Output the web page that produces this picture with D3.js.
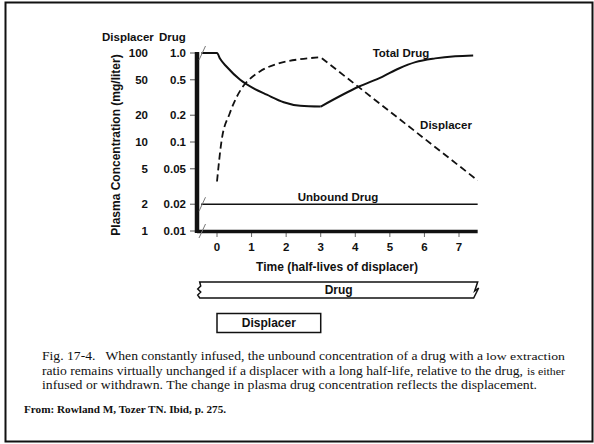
<!DOCTYPE html>
<html>
<head>
<meta charset="utf-8">
<script src="https://cdn.jsdelivr.net/npm/d3@7"></script>
<style>
body { margin: 0; background: #fff; }
svg { display: block; }
.lbl { font-family: "Liberation Sans", Arial, sans-serif; font-weight: bold; font-size: 11.5px; fill: #111; }
.cap { font-family: "Liberation Serif", "Times New Roman", serif; font-size: 13.5px; fill: #111; white-space: pre; }
</style>
</head>
<body>
<svg width="594" height="444"></svg>
<script>
// time axis, in half-lives of the displacer
var timeTicks = [0, 1, 2, 3, 4, 5, 6, 7];

// two concentration scales share one log axis
var drugTicks = [1.0, 0.5, 0.2, 0.1, 0.05, 0.02, 0.01];
var drugTickLabels = ["1.0", "0.5", "0.2", "0.1", "0.05", "0.02", "0.01"];
var displacerTicks = [100, 50, 20, 10, 5, 2, 1];

// total drug (mg/L) while displacer is infused, then after it is withdrawn
var totalInfTime = [-0.45, 0, 0.09, 0.28, 0.67, 1.06, 1.44, 1.93, 2.41, 3.0];
var totalInfConc = [1.0, 1.0, 0.86, 0.70, 0.50, 0.40, 0.34, 0.28, 0.255, 0.25];
var totalWdTime = [3.0, 4.11, 4.78, 5.26, 5.74, 6.31, 6.89, 7.41];
var totalWdConc = [0.25, 0.42, 0.54, 0.67, 0.79, 0.87, 0.92, 0.94];

// displacer (mg/L)
var dispInfTime = [0, 0.135, 0.37, 0.75, 0.95, 1.24, 1.81, 2.39, 3.0];
var dispInfConc = [3.6, 10.5, 21, 42, 51, 62, 77, 85, 89.5];
var dispWdTime = [3.0, 7.54];
var dispWdConc = [89.5, 3.7];

// unbound drug stays flat
var unboundTime = [-0.46, 7.54];
var unboundConc = [0.02, 0.02];

// infusion periods
var drugInfusion = [-0.5, 7.54];
var displacerInfusion = [0, 3];

// caption: [main text, smaller tail]
var captionLines = [
    ["Fig. 17-4.   When constantly infused, the unbound concentration of a drug with a", "low extraction"],
    ["ratio remains virtually unchanged if a displacer with a long half-life, relative to the drug,", "is either"],
    ["infused or withdrawn. The change in plasma drug concentration reflects the displacement.", ""]
];
var source = "From: Rowland M, Tozer TN. Ibid, p. 275.";

var svg = d3.select("svg");

var x = d3.scaleLinear().domain([0, 7]).range([217, 459]);
var y = d3.scaleLog().domain([0.01, 1]).range([231, 53]);
var yDisp = d3.scaleLog().domain([1, 100]).range([231, 53]);

var axisX = 197;
var axisEnd = x(7.54);

// frame
svg.append("rect")
    .attr("x", 5.5).attr("y", 2.5)
    .attr("width", 587).attr("height", 439)
    .attr("fill", "none").attr("stroke", "#111").attr("stroke-width", 2);

// y ticks + two label columns
var yt = svg.append("g");
yt.selectAll("line")
    .data(drugTicks)
    .join("line")
    .attr("x1", 190).attr("x2", axisX)
    .attr("y1", d => y(d)).attr("y2", d => y(d))
    .attr("stroke", "#555").attr("stroke-width", 1);
yt.selectAll("text.drug")
    .data(drugTicks)
    .join("text")
    .attr("class", "lbl drug")
    .attr("x", 186).attr("y", d => y(d) + 4)
    .attr("text-anchor", "end")
    .text((d, i) => drugTickLabels[i]);
yt.selectAll("text.disp")
    .data(displacerTicks)
    .join("text")
    .attr("class", "lbl disp")
    .attr("x", 148).attr("y", d => yDisp(d) + 4)
    .attr("text-anchor", "end")
    .text(d => d);

svg.append("text").attr("class", "lbl").attr("x", 102).attr("y", 41).text("Displacer");
svg.append("text").attr("class", "lbl").attr("x", 159).attr("y", 41).text("Drug");

svg.append("text")
    .attr("class", "lbl")
    .attr("transform", "translate(120,145) rotate(-90)")
    .attr("text-anchor", "middle")
    .style("font-size", "12px")
    .text("Plasma Concentration (mg/liter)");

// x ticks
var xt = svg.append("g");
xt.selectAll("line")
    .data(timeTicks)
    .join("line")
    .attr("x1", d => x(d)).attr("x2", d => x(d))
    .attr("y1", 232).attr("y2", 237)
    .attr("stroke", "#666").attr("stroke-width", 1);
xt.selectAll("text")
    .data(timeTicks)
    .join("text")
    .attr("class", "lbl")
    .attr("x", d => x(d)).attr("y", 251)
    .attr("text-anchor", "middle")
    .text(d => d);

svg.append("text")
    .attr("class", "lbl")
    .attr("x", 337).attr("y", 271)
    .attr("text-anchor", "middle")
    .style("font-size", "12px")
    .text("Time (half-lives of displacer)");

// curves
var zip = (ts, vs) => ts.map((t, i) => [t, vs[i]]);

var drugLine = d3.line().x(d => x(d[0])).y(d => y(d[1])).curve(d3.curveMonotoneX);
var dispLine = d3.line().x(d => x(d[0])).y(d => yDisp(d[1])).curve(d3.curveMonotoneX);

svg.append("path")
    .attr("d", drugLine(zip(unboundTime, unboundConc)))
    .attr("fill", "none").attr("stroke", "#111").attr("stroke-width", 1.5);

[zip(totalInfTime, totalInfConc), zip(totalWdTime, totalWdConc)].forEach(pts => {
    svg.append("path")
        .attr("d", drugLine(pts))
        .attr("fill", "none").attr("stroke", "#111").attr("stroke-width", 2);
});

svg.append("path")
    .attr("d", dispLine(zip(dispInfTime, dispInfConc)) + dispLine(zip(dispWdTime, dispWdConc)).replace(/^M/, "L"))
    .attr("fill", "none").attr("stroke", "#111").attr("stroke-width", 1.8)
    .attr("stroke-dasharray", "7,4");

// axes drawn thick on top
svg.append("line")
    .attr("x1", axisX).attr("x2", axisX).attr("y1", 52).attr("y2", 233)
    .attr("stroke", "#111").attr("stroke-width", 4.5);
svg.append("line")
    .attr("x1", axisX).attr("x2", axisEnd).attr("y1", 231.5).attr("y2", 231.5)
    .attr("stroke", "#111").attr("stroke-width", 3.5);

// axis break marks
svg.selectAll("line.brk")
    .data([1.0, 0.02, 0.01])
    .join("line")
    .attr("class", "brk")
    .attr("x1", 199).attr("x2", 205.5)
    .attr("y1", d => y(d) + 7).attr("y2", d => y(d) - 7)
    .attr("stroke", "#777").attr("stroke-width", 1);

// labels
svg.append("text").attr("class", "lbl").attr("x", 401).attr("y", 57).attr("text-anchor", "middle").text("Total Drug");
svg.append("text").attr("class", "lbl").attr("x", 446).attr("y", 129).attr("text-anchor", "middle").text("Displacer");
svg.append("text").attr("class", "lbl").attr("x", 338).attr("y", 201).attr("text-anchor", "middle").text("Unbound Drug");

// infusion bars
var bx0 = x(drugInfusion[0]), bx1 = x(drugInfusion[1]);
var bTop = 282, bBot = 298;
var barPath = d3.path();
barPath.moveTo(bx0, bTop);
barPath.lineTo(bx1, bTop);
barPath.lineTo(bx1 - 3, bTop + 9);
barPath.lineTo(bx1 + 1, bTop + 6);
barPath.lineTo(bx1 - 4, bBot);
barPath.lineTo(bx0, bBot);
barPath.lineTo(bx0 - 2, bBot - 3);
barPath.lineTo(bx0 + 1, bBot - 6);
barPath.lineTo(bx0 - 2, bBot - 9);
barPath.lineTo(bx0 + 1, bBot - 12);
barPath.closePath();
svg.append("path")
    .attr("d", barPath.toString())
    .attr("fill", "#fff").attr("stroke", "#111").attr("stroke-width", 1.5);
svg.append("text").attr("class", "lbl").style("font-size", "12px")
    .attr("x", (bx0 + bx1) / 2).attr("y", 294).attr("text-anchor", "middle").text("Drug");

svg.append("rect")
    .attr("x", x(displacerInfusion[0])).attr("y", 313.5)
    .attr("width", x(displacerInfusion[1]) - x(displacerInfusion[0])).attr("height", 19)
    .attr("fill", "#fff").attr("stroke", "#111").attr("stroke-width", 1.5);
svg.append("text").attr("class", "lbl").style("font-size", "12px")
    .attr("x", (x(displacerInfusion[0]) + x(displacerInfusion[1])) / 2).attr("y", 327)
    .attr("text-anchor", "middle").text("Displacer");

// caption, stretched to the printed line widths
var capSpans = [[441, 486, 79], [481, 527, 38], [495, 0, 0]];
var cap = svg.append("g");
captionLines.forEach((ln, i) => {
    var t = cap.append("text").attr("class", "cap").attr("x", 42).attr("y", 360 + i * 14.5);
    t.append("tspan")
        .attr("textLength", capSpans[i][0]).attr("lengthAdjust", "spacingAndGlyphs")
        .text(ln[0]);
    if (ln[1]) {
        t.append("tspan")
            .attr("x", capSpans[i][1])
            .attr("textLength", capSpans[i][2]).attr("lengthAdjust", "spacingAndGlyphs")
            .style("font-size", "11px")
            .text(ln[1]);
    }
});
svg.append("text").attr("class", "cap")
    .attr("x", 24).attr("y", 413)
    .style("font-weight", "bold").style("font-size", "11.2px")
    .text(source);
</script>
</body>
</html>
